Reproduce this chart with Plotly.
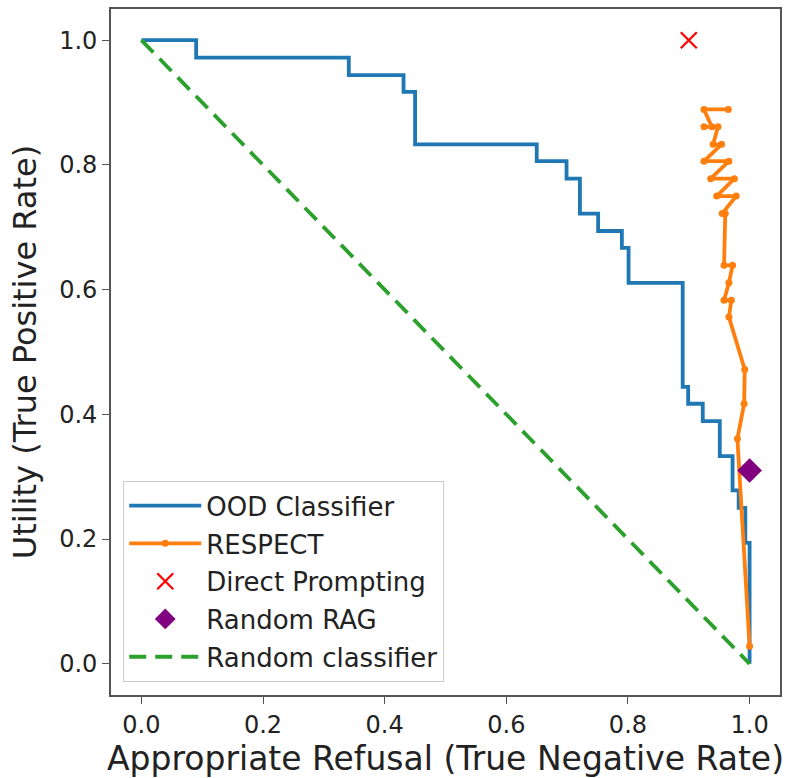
import plotly.graph_objects as go

# OOD classifier (step curve vertices; drawn horizontal-then-vertical)
ood_tnr = [0.0, 0.090, 0.341, 0.431, 0.450, 0.650, 0.699, 0.721, 0.751, 0.790, 0.801,
           0.890, 0.899, 0.923, 0.951, 0.972, 0.982, 0.993, 1.0]
ood_tpr = [1.0, 0.972, 0.944, 0.917, 0.833, 0.806, 0.778, 0.722, 0.694, 0.667, 0.611,
           0.444, 0.417, 0.389, 0.333, 0.278, 0.250, 0.194, 0.0]

# RESPECT
respect_tnr = [0.965, 0.925, 0.938, 0.925, 0.948, 0.940, 0.954, 0.925, 0.966, 0.936,
               0.975, 0.946, 0.978, 0.955, 0.960, 0.958, 0.972, 0.966, 0.958, 0.970,
               0.966, 0.992, 0.991, 0.980, 1.0]
respect_tpr = [0.889, 0.889, 0.861, 0.861, 0.861, 0.833, 0.833, 0.806, 0.806, 0.778,
               0.778, 0.750, 0.750, 0.722, 0.722, 0.639, 0.639, 0.611, 0.583, 0.583,
               0.556, 0.472, 0.417, 0.361, 0.028]

# Single-point methods
direct_tnr = [0.90]
direct_tpr = [1.0]
rag_tnr = [1.0]
rag_tpr = [0.31]

# Random classifier diagonal
rand_tnr = [0.0, 1.0]
rand_tpr = [1.0, 0.0]

tick_vals = [0.0, 0.2, 0.4, 0.6, 0.8, 1.0]
tick_text = ["0.0", "0.2", "0.4", "0.6", "0.8", "1.0"]

FONT = "DejaVu Sans"

fig = go.Figure()
fig.add_trace(go.Scatter(x=ood_tnr, y=ood_tpr, mode="lines", name="OOD Classifier",
                         line=dict(color="#1f77b4", width=3.8, shape="hv"),
                         legendgroup="a"))
fig.add_trace(go.Scatter(x=respect_tnr, y=respect_tpr, mode="lines+markers", name="RESPECT",
                         line=dict(color="#ff7f0e", width=3.8),
                         marker=dict(size=7, color="#ff7f0e"), legendgroup="b"))
fig.add_trace(go.Scatter(x=direct_tnr, y=direct_tpr, mode="markers", name="Direct Prompting",
                         marker=dict(symbol="x-thin", size=16, color="red",
                                     line=dict(color="red", width=2.2)),
                         legendgroup="c"))
fig.add_trace(go.Scatter(x=rag_tnr, y=rag_tpr, mode="markers", name="Random RAG",
                         marker=dict(symbol="diamond", size=19, color="purple"),
                         legendgroup="d"))
fig.add_trace(go.Scatter(x=rand_tnr, y=rand_tpr, mode="lines", name="Random classifier",
                         line=dict(color="#2ca02c", width=3.8, dash="17px,9px"),
                         legendgroup="e"))

axis_common = dict(
    showgrid=False, zeroline=False, showline=True, mirror=True,
    linecolor="#555555", linewidth=1.6,
    ticks="outside", ticklen=7, tickwidth=1.4, tickcolor="#555555",
    tickvals=tick_vals, ticktext=tick_text,
    tickfont=dict(family=FONT, size=24, color="#222222"),
)

fig.update_layout(
    width=789, height=778,
    margin=dict(l=111, r=8, t=7, b=83),
    paper_bgcolor="white", plot_bgcolor="white",
    showlegend=True,
    xaxis=dict(range=[-0.05, 1.05],
               title=dict(text="Appropriate Refusal (True Negative Rate)",
                          font=dict(family=FONT, size=33, color="#222222"), standoff=0),
               **axis_common),
    yaxis=dict(range=[-0.05, 1.05],
               title=dict(text="Utility (True Positive Rate)",
                          font=dict(family=FONT, size=32, color="#222222"), standoff=13),
               **axis_common),
    legend=dict(x=0.018, y=0.019, xanchor="left", yanchor="bottom",
                bgcolor="rgba(255,255,255,0.8)", bordercolor="#cccccc", borderwidth=1.2,
                font=dict(family=FONT, size=26, color="#222222"),
                tracegroupgap=1, itemwidth=72),
)

fig.write_html("out.html", config={"displayModeBar": False},
               post_script="document.body.style.margin='0px';")
